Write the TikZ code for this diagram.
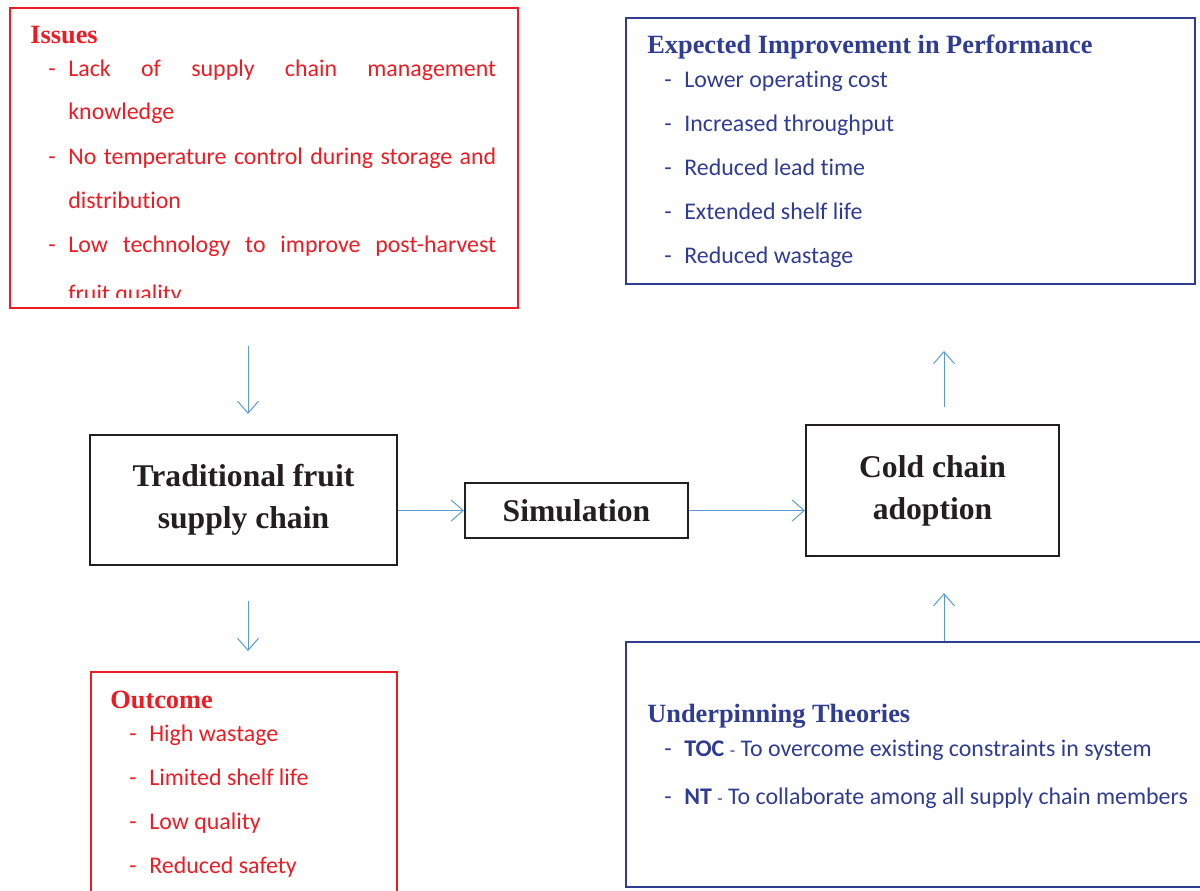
\documentclass[tikz,border=0pt]{standalone}
\usepackage{fontspec}
\setmainfont{Liberation Serif}
\newfontfamily\bodyfont[Ligatures=NoCommon]{Carlito}
\usepackage{tikz}
\usetikzlibrary{arrows.meta}

\definecolor{issuered}{HTML}{ED1C24}
\definecolor{perfblue}{HTML}{2F3C93}
\definecolor{flowblue}{HTML}{5B9BD5}
\definecolor{stageblack}{HTML}{231F20}

\newcommand{\itm}[1]{\makebox[0.4cm][l]{-}#1}
\newcommand{\smalldash}{{\fontsize{10pt}{12pt}\selectfont -}}

\tikzset{
 redbox/.style={draw=issuered, line width=0.04cm, inner sep=0},
 bluebox/.style={draw=perfblue, line width=0.04cm, inner sep=0},
 stagebox/.style={draw=stageblack, line width=0.045cm, text=stageblack, align=center,
   font=\bfseries\fontsize{18pt}{24pt}\selectfont},
 heading/.style={anchor=base west, inner sep=0, font=\bfseries\fontsize{15pt}{18pt}\selectfont},
 item/.style={anchor=base west, inner sep=0, font=\bodyfont\fontsize{13.6pt}{16pt}\selectfont},
 flow/.style={draw=flowblue, line width=0.02cm, -{Straight Barb[length=0.24cm,width=0.42cm]}}
}

\begin{document}
\begin{tikzpicture}[x=0.02cm, y=-0.02cm]

\useasboundingbox (0,0) rectangle (1200,890);

%Draw stages
\node[stagebox, minimum width=6.14cm, minimum height=2.6cm] (trad) at (243.5,500) {Traditional fruit\\supply chain};
\node[stagebox, minimum width=4.46cm, minimum height=1.1cm] (sim) at (576.5,510.5) {Simulation};
\node[stagebox, minimum width=5.06cm, minimum height=2.62cm] (cold) at (932.5,490.5) {Cold chain\\adoption};

%Draw frames
\node[redbox, minimum width=10.16cm, minimum height=6cm] (issues) at (264,158) {};
\node[bluebox, minimum width=11.38cm, minimum height=5.32cm] (improve) at (910.5,151) {};
\node[redbox, minimum width=6.12cm, minimum height=4.76cm] (outcome) at (244,791) {};
\node[bluebox, minimum width=11.68cm, minimum height=4.9cm] (theory) at (918,764.5) {};

%Issues
\node[heading, text=issuered] (issuesT) at (30,43) {Issues};
\begin{scope}[text=issuered]
\clip (12,10) rectangle (516,297);
\node[item] (iss1) at (48,76) {\itm{\makebox[8.56cm][s]{Lack of supply chain management}}};
\node[item] (iss1b) at (68,119) {knowledge};
\node[item] (iss2) at (48,164) {\itm{\makebox[8.56cm][s]{No temperature control during storage and}}};
\node[item] (iss2b) at (68,208) {distribution};
\node[item] (iss3) at (48,252) {\itm{\makebox[8.56cm][s]{Low technology to improve post-harvest}}};
\node[item] (iss3b) at (68,301) {fruit quality};
\end{scope}

%Expected improvement
\node[heading, text=perfblue] (improveT) at (647,53) {Expected Improvement in Performance};
\foreach \txt [count=\i] in {Lower operating cost, Increased throughput, Reduced lead time, Extended shelf life, Reduced wastage} {
\node[item, text=perfblue] (imp\i) at (664, 43+44*\i) {\itm{\txt}};
}

%Outcome
\node[heading, text=issuered] (outcomeT) at (110,708) {Outcome};
\foreach \txt [count=\i] in {High wastage, Limited shelf life, Low quality, Reduced safety} {
\node[item, text=issuered] (out\i) at (129, 697+44*\i) {\itm{\txt}};
}

%Underpinning theories
\node[heading, text=perfblue] (theoryT) at (647,722) {Underpinning Theories};
\node[item, text=perfblue] (toc) at (664,756) {\itm{\textbf{TOC} \smalldash{} To overcome existing constraints in system}};
\node[item, text=perfblue] (nt) at (664,804) {\itm{\textbf{NT} \smalldash{} To collaborate among all supply chain members}};

%Draw arrows
\draw[flow, shorten <=0.74cm, shorten >=0.4cm] ([xshift=0.09cm]trad.north |- issues.south) -- ([xshift=0.09cm]trad.north);
\draw[flow, shorten <=0.7cm, shorten >=0.4cm] ([xshift=0.09cm]trad.south) -- ([xshift=0.09cm]trad.south |- outcome.north);
\draw[flow] (trad.east |- sim.west) -- (sim.west);
\draw[flow] (sim.east) -- (cold.west |- sim.east);
\draw[flow, shorten <=0.34cm, shorten >=1.32cm] ([xshift=0.23cm]cold.north) -- ([xshift=0.23cm]cold.north |- improve.south);
\draw[flow, shorten >=0.72cm] ([xshift=0.23cm]cold.south |- theory.north) -- ([xshift=0.23cm]cold.south);

\end{tikzpicture}
\end{document}
